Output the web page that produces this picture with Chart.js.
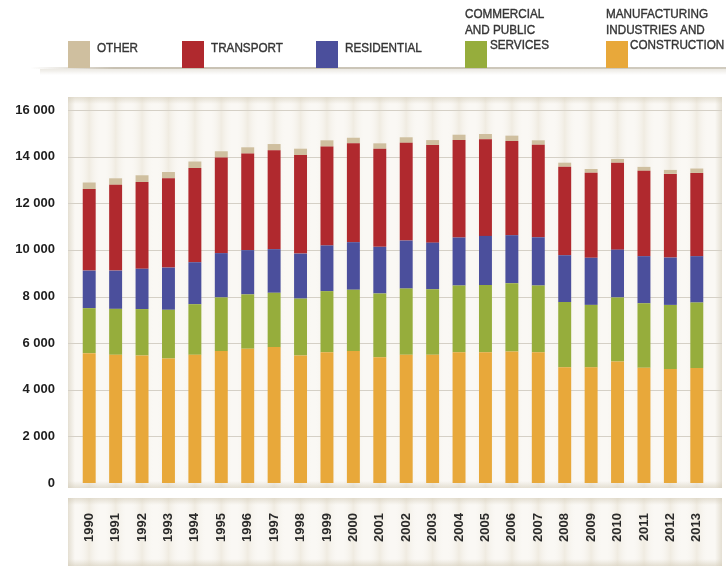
<!DOCTYPE html>
<html>
<head>
<meta charset="utf-8">
<script src="https://cdn.jsdelivr.net/npm/chart.js@4.4.1/dist/chart.umd.min.js"></script>
<style>
  html, body { margin: 0; padding: 0; background: #fff; }
  #chart { display: block; }
</style>
</head>
<body>
<canvas id="chart" width="726" height="566"></canvas>
<script>
const years = ['1990', '1991', '1992', '1993', '1994', '1995', '1996', '1997', '1998', '1999', '2000', '2001',
  '2002', '2003', '2004', '2005', '2006', '2007', '2008', '2009', '2010', '2011', '2012', '2013'];

const manufacturing = [5570, 5500, 5470, 5340, 5500, 5660, 5760, 5830, 5470, 5610, 5660, 5390,
  5500, 5500, 5610, 5610, 5640, 5610, 4960, 4960, 5210, 4940, 4890, 4930];
const commercial = [1930, 1970, 1990, 2090, 2170, 2300, 2330, 2330, 2440, 2620, 2630, 2740,
  2840, 2810, 2860, 2880, 2930, 2860, 2800, 2680, 2750, 2770, 2750, 2810];
const residential = [1610, 1640, 1730, 1810, 1800, 1900, 1900, 1870, 1930, 1960, 2040, 2000,
  2060, 2000, 2060, 2110, 2060, 2070, 2010, 2020, 2050, 2020, 2030, 1990];
const transport = [3500, 3680, 3720, 3830, 4040, 4100, 4140, 4240, 4230, 4240, 4240, 4210,
  4190, 4190, 4180, 4140, 4040, 3970, 3800, 3650, 3730, 3660, 3590, 3570];
const other = [280, 280, 290, 270, 280, 270, 270, 270, 270, 270, 240, 230,
  240, 210, 230, 230, 230, 190, 170, 160, 160, 170, 170, 190];

// legend text, one entry per line
const otherLabel = ['OTHER'];
const transportLabel = ['TRANSPORT'];
const residentialLabel = ['RESIDENTIAL'];
const commercialLabel = ['COMMERCIAL', 'AND PUBLIC', 'SERVICES'];
const manufacturingLabel = ['MANUFACTURING', 'INDUSTRIES AND', 'CONSTRUCTION'];

const yTicks = [0, 2000, 4000, 6000, 8000, 10000, 12000, 14000, 16000];

const COLORS = {
  manufacturing: '#e8a83a',
  commercial: '#96ad3c',
  residential: '#4b4f9c',
  transport: '#b0292e',
  other: '#cfbf9f'
};

const SANS = "'Liberation Sans', Arial, sans-serif";

const panelBox = { left: 68, right: 722, top: 97, bottom: 488 };
const labelBox = { left: 68, right: 722, top: 498, bottom: 566 };

function edgeShade(ctx, x0, y0, x1, y1, rx, ry, rw, rh) {
  const g = ctx.createLinearGradient(x0, y0, x1, y1);
  g.addColorStop(0, 'rgba(210,202,182,0.55)');
  g.addColorStop(1, 'rgba(210,202,182,0)');
  ctx.fillStyle = g;
  ctx.fillRect(rx, ry, rw, rh);
}

function drawBox(ctx, box, xScale) {
  const w = box.right - box.left, h = box.bottom - box.top;
  ctx.save();
  ctx.fillStyle = '#faf8f4';
  ctx.fillRect(box.left, box.top, w, h);
  // soft vertical stripes under each category
  const half = (xScale.getPixelForValue(1) - xScale.getPixelForValue(0)) / 2;
  years.forEach((y, i) => {
    const cx = xScale.getPixelForValue(i);
    const g = ctx.createLinearGradient(cx - half, 0, cx + half, 0);
    g.addColorStop(0, 'rgba(255,255,255,0)');
    g.addColorStop(0.5, 'rgba(225,217,198,0.4)');
    g.addColorStop(1, 'rgba(255,255,255,0)');
    ctx.fillStyle = g;
    ctx.fillRect(cx - half, box.top, half * 2, h);
  });
  const e = 7;
  edgeShade(ctx, 0, box.top, 0, box.top + e, box.left, box.top, w, e);
  edgeShade(ctx, 0, box.bottom, 0, box.bottom - e, box.left, box.bottom - e, w, e);
  edgeShade(ctx, box.left, 0, box.left + e, 0, box.left, box.top, e, h);
  edgeShade(ctx, box.right, 0, box.right - e, 0, box.right - e, box.top, e, h);
  ctx.restore();
}

const backdrop = {
  id: 'backdrop',
  beforeDraw(chart) {
    const ctx = chart.ctx;
    const x = chart.scales.x, y = chart.scales.y;
    drawBox(ctx, panelBox, x);
    drawBox(ctx, labelBox, x);
    // horizontal gridlines over the whole panel
    ctx.save();
    ctx.strokeStyle = '#d5d0c6';
    ctx.lineWidth = 1;
    yTicks.forEach(v => {
      if (v === 0) return;
      const py = Math.round(y.getPixelForValue(v)) + 0.5;
      ctx.beginPath();
      ctx.moveTo(panelBox.left, py);
      ctx.lineTo(panelBox.right, py);
      ctx.stroke();
    });
    ctx.restore();
  }
};

// hand-placed legend like the original
const legendItems = [
  { lines: otherLabel, color: COLORS.other, sx: 68, tx: [97], ty: [48] },
  { lines: transportLabel, color: COLORS.transport, sx: 182, tx: [211], ty: [48] },
  { lines: residentialLabel, color: COLORS.residential, sx: 316, tx: [345], ty: [48] },
  { lines: commercialLabel, color: COLORS.commercial, sx: 465, tx: [465, 465, 490], ty: [14, 30, 45] },
  { lines: manufacturingLabel, color: COLORS.manufacturing, sx: 606, tx: [606, 606, 630], ty: [14, 30, 45] }
];

const topLegend = {
  id: 'topLegend',
  afterDraw(chart) {
    const ctx = chart.ctx;
    ctx.save();
    // faint rule under the legend
    let g = ctx.createLinearGradient(30, 0, 726, 0);
    g.addColorStop(0, 'rgba(190,182,165,0)');
    g.addColorStop(0.12, 'rgba(190,182,165,0.85)');
    g.addColorStop(1, 'rgba(200,194,180,0.85)');
    ctx.fillStyle = g;
    ctx.fillRect(30, 67, 696, 2);
    g = ctx.createLinearGradient(0, 69, 0, 75);
    g.addColorStop(0, 'rgba(215,210,198,0.5)');
    g.addColorStop(1, 'rgba(215,210,198,0)');
    ctx.fillStyle = g;
    ctx.fillRect(40, 69, 686, 6);

    ctx.textBaseline = 'middle';
    ctx.textAlign = 'left';
    legendItems.forEach(it => {
      ctx.fillStyle = it.color;
      ctx.fillRect(it.sx, 41, 22, 27);
      ctx.fillStyle = '#363636';
      ctx.strokeStyle = '#363636';
      ctx.lineWidth = 0.4;
      ctx.font = '13px ' + SANS;
      it.lines.forEach((t, i) => {
        // squeeze horizontally to get the condensed look of the original
        ctx.save();
        ctx.translate(it.tx[i], it.ty[i]);
        ctx.scale(0.9, 1);
        ctx.fillText(t, 0, 0);
        ctx.strokeText(t, 0, 0);
        ctx.restore();
      });
    });
    ctx.restore();
  }
};

new Chart(document.getElementById('chart').getContext('2d'), {
  type: 'bar',
  data: {
    labels: years,
    datasets: [
      { label: manufacturingLabel.join(' '), data: manufacturing, backgroundColor: COLORS.manufacturing },
      { label: commercialLabel.join(' '), data: commercial, backgroundColor: COLORS.commercial },
      { label: residentialLabel.join(' '), data: residential, backgroundColor: COLORS.residential },
      { label: transportLabel.join(' '), data: transport, backgroundColor: COLORS.transport },
      { label: otherLabel.join(' '), data: other, backgroundColor: COLORS.other }
    ]
  },
  options: {
    responsive: false,
    animation: false,
    layout: { padding: { top: 110, right: 16, bottom: 0, left: 0 } },
    datasets: { bar: { barPercentage: 0.49, categoryPercentage: 1, borderWidth: 0 } },
    plugins: { legend: { display: false }, tooltip: { enabled: false } },
    scales: {
      x: {
        stacked: true,
        grid: { display: false, drawTicks: false },
        border: { display: false },
        ticks: {
          minRotation: 90, maxRotation: 90, padding: 30, autoSkip: false,
          color: '#2a2a2a',
          font: { family: SANS, size: 13, weight: 'bold' }
        },
        afterFit(axis) {
          axis.height = 83;
          axis.paddingLeft = 0;
          axis.paddingRight = 0;
        }
      },
      y: {
        stacked: true,
        min: 0, max: 16000,
        grid: { display: false, drawTicks: false },
        border: { display: false },
        afterBuildTicks(axis) { axis.ticks = yTicks.map(v => ({ value: v })); },
        ticks: {
          padding: 21,
          color: '#1e1e1e',
          font: { family: SANS, size: 13, weight: 'bold' },
          callback: v => v >= 1000 ? Math.floor(v / 1000) + ' ' + String(v % 1000).padStart(3, '0') : String(v)
        },
        afterFit(axis) { axis.width = 76; }
      }
    }
  },
  plugins: [backdrop, topLegend]
});
</script>
</body>
</html>
